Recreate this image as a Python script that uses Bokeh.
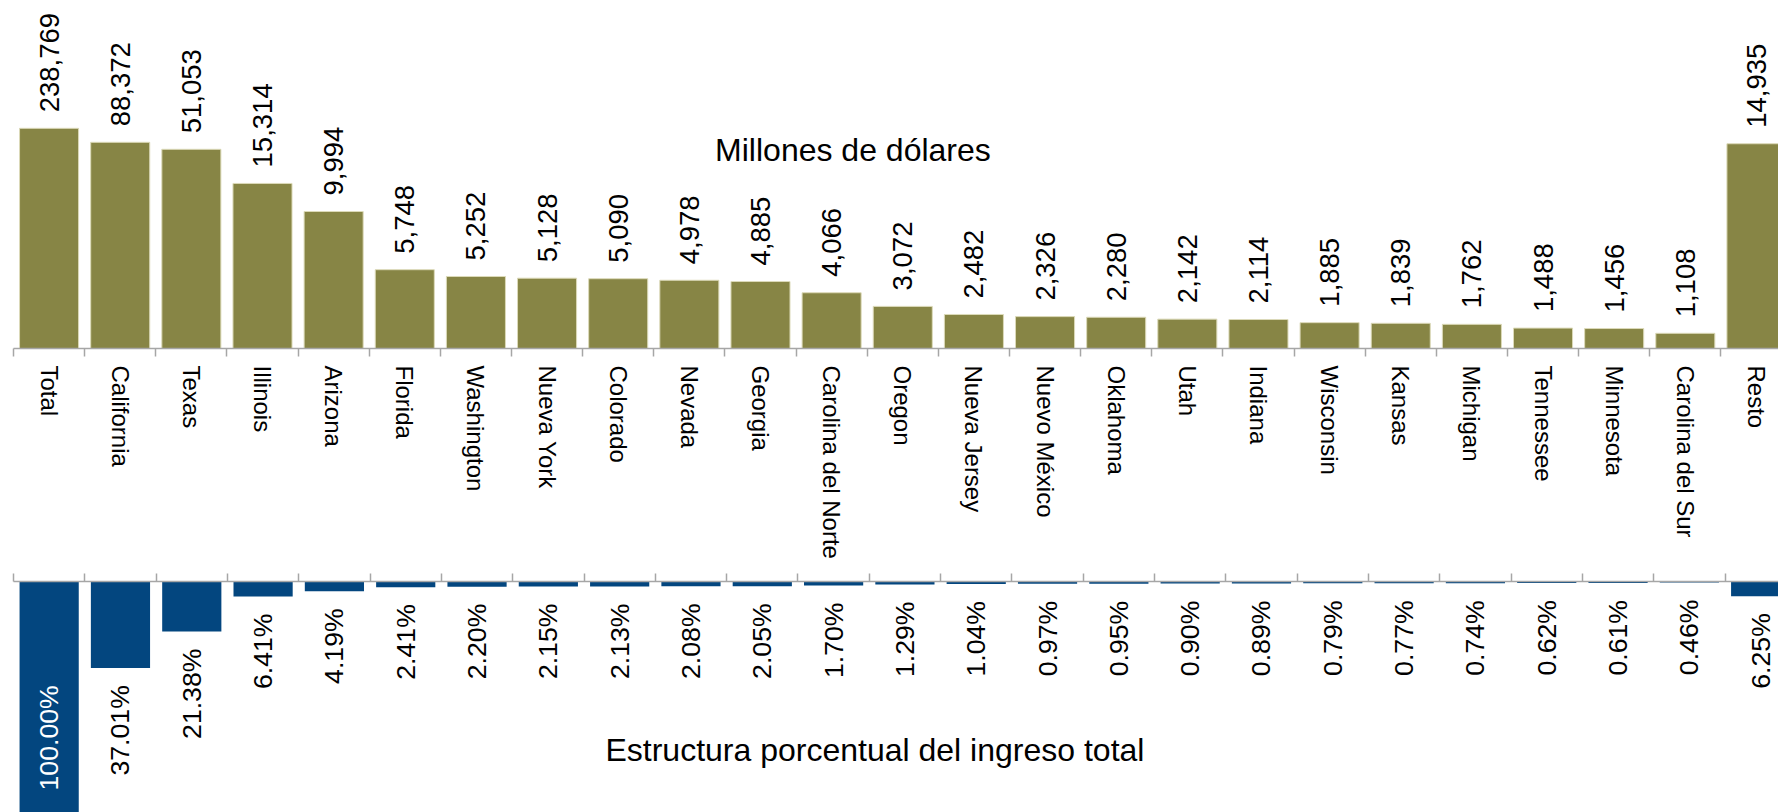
import math
from bokeh.plotting import figure
from bokeh.models import Range1d, LinearAxis, FixedTicker, Label, ColumnDataSource
from bokeh.layouts import column
from bokeh.core.properties import value
from bokeh.embed import file_html
from bokeh.resources import INLINE

# ---------------- data ----------------
estados = ["Total", "California", "Texas", "Illinois", "Arizona", "Florida",
           "Washington", "Nueva York", "Colorado", "Nevada", "Georgia",
           "Carolina del Norte", "Oregon", "Nueva Jersey", "Nuevo México",
           "Oklahoma", "Utah", "Indiana", "Wisconsin", "Kansas", "Michigan",
           "Tennessee", "Minnesota", "Carolina del Sur", "Resto"]

# data labels (millones de dólares)
valores = [238769, 88372, 51053, 15314, 9994, 5748, 5252, 5128, 5090, 4978,
           4885, 4066, 3072, 2482, 2326, 2280, 2142, 2114, 1885, 1839, 1762,
           1488, 1456, 1108, 14935]

# bar heights as drawn in the picture (largest bars are compressed in the original)
alturas = [16060, 15040, 14530, 12040, 9994, 5748, 5252, 5128, 5090, 4978,
           4885, 4066, 3072, 2482, 2326, 2280, 2142, 2114, 1885, 1839, 1762,
           1488, 1456, 1108, 14935]

# estructura porcentual
porcentajes = [100.00, 37.01, 21.38, 6.41, 4.19, 2.41, 2.20, 2.15, 2.13, 2.08,
               2.05, 1.70, 1.29, 1.04, 0.97, 0.95, 0.90, 0.89, 0.79, 0.77,
               0.74, 0.62, 0.61, 0.46, 6.25]

titulo_sup = "Millones de dólares"
titulo_inf = "Estructura porcentual del ingreso total"

# ---------------- styling ----------------
OLIVE = "#878545"
BLUE = "#03467f"
AXIS = "#a6a6a6"
FONT = "Liberation Sans"

n = len(estados)
idx = list(range(n))
bounds = [i - 0.5 for i in range(n + 1)]

# ---------------- top chart ----------------
TOP_MAX = 24800
p1 = figure(width=1778, height=573, x_range=Range1d(-0.5, 24.31),
            y_range=Range1d(0, TOP_MAX), output_backend="svg",
            toolbar_location=None, x_axis_location=None, y_axis_location=None,
            min_border_left=10, min_border_right=0, min_border_top=8,
            min_border_bottom=225)
p1.outline_line_color = None
p1.grid.visible = False
p1.background_fill_color = "white"
p1.border_fill_color = "white"

src1 = ColumnDataSource(dict(x=idx, top=alturas,
                             lab=[f"{v:,}" for v in valores]))
p1.vbar(x="x", top="top", bottom=0, width=0.83, source=src1,
        fill_color=OLIVE, line_color="#dcdab9", line_width=1)
p1.text(x="x", y="top", text="lab", source=src1, angle=math.pi / 2,
        text_align="left", text_baseline="middle", y_offset=-16,
        text_font=value(FONT), text_font_size="27.5px", text_color="black")

ax1 = LinearAxis(ticker=FixedTicker(ticks=idx, minor_ticks=bounds),
                 major_label_overrides={i: e for i, e in enumerate(estados)},
                 major_label_orientation="vertical",
                 major_tick_out=0, major_tick_in=0,
                 minor_tick_out=8, minor_tick_in=0,
                 minor_tick_line_color=AXIS, minor_tick_line_width=1.5,
                 axis_line_color=AXIS, axis_line_width=1.5,
                 major_label_standoff=9,
                 major_label_text_font=FONT,
                 major_label_text_font_size="24px",
                 major_label_text_color="black")
p1.add_layout(ax1, "below")

p1.add_layout(Label(x=11.30, y=14450, text=titulo_sup, text_align="center",
                    text_baseline="middle", text_font=FONT,
                    text_font_size="32px", text_color="black"))

# ---------------- bottom chart ----------------
BOT_MIN = -98.7
p2 = figure(width=1778, height=239, x_range=Range1d(-0.5, 24.25),
            y_range=Range1d(BOT_MIN, 0), output_backend="svg",
            toolbar_location=None, x_axis_location=None, y_axis_location=None,
            min_border_left=13, min_border_right=0, min_border_top=8,
            min_border_bottom=0)
p2.outline_line_color = None
p2.grid.visible = False
p2.background_fill_color = "white"
p2.border_fill_color = "white"

neg = [-v for v in porcentajes]
src2 = ColumnDataSource(dict(x=idx, bottom=neg))
p2.vbar(x="x", top=0, bottom="bottom", width=0.83, source=src2,
        fill_color=BLUE, line_color=None)

fuera_x = [i for i, v in zip(idx, porcentajes) if v <= -BOT_MIN]
fuera_y = [-v for v in porcentajes if v <= -BOT_MIN]
fuera_t = [f"{v:.2f}%" for v in porcentajes if v <= -BOT_MIN]
dentro_x = [i for i, v in zip(idx, porcentajes) if v > -BOT_MIN]
dentro_t = [f"{v:.2f}%" for v in porcentajes if v > -BOT_MIN]

p2.text(x=fuera_x, y=fuera_y, text=fuera_t, angle=math.pi / 2,
        text_align="right", text_baseline="middle", y_offset=17,
        text_font=value(FONT), text_font_size="26.67px", text_color="black")
p2.text(x=dentro_x, y=[BOT_MIN] * len(dentro_x), text=dentro_t,
        angle=math.pi / 2, text_align="left", text_baseline="middle",
        y_offset=-22, text_font=value(FONT), text_font_size="26.67px",
        text_color="white")

ax2 = LinearAxis(ticker=FixedTicker(ticks=[], minor_ticks=bounds),
                 major_tick_out=0, major_tick_in=0,
                 minor_tick_out=8, minor_tick_in=0,
                 minor_tick_line_color=AXIS, minor_tick_line_width=1.5,
                 axis_line_color=AXIS, axis_line_width=1.5,
                 major_label_standoff=0, major_label_text_font_size="0px")
p2.add_layout(ax2, "above")

p2.add_layout(Label(x=11.58, y=-72.2, text=titulo_inf, text_align="center",
                    text_baseline="middle", text_font=FONT,
                    text_font_size="32px", text_color="black"))

layout = column(p1, p2, spacing=0)
open("out.html", "w").write(file_html(layout, INLINE))
